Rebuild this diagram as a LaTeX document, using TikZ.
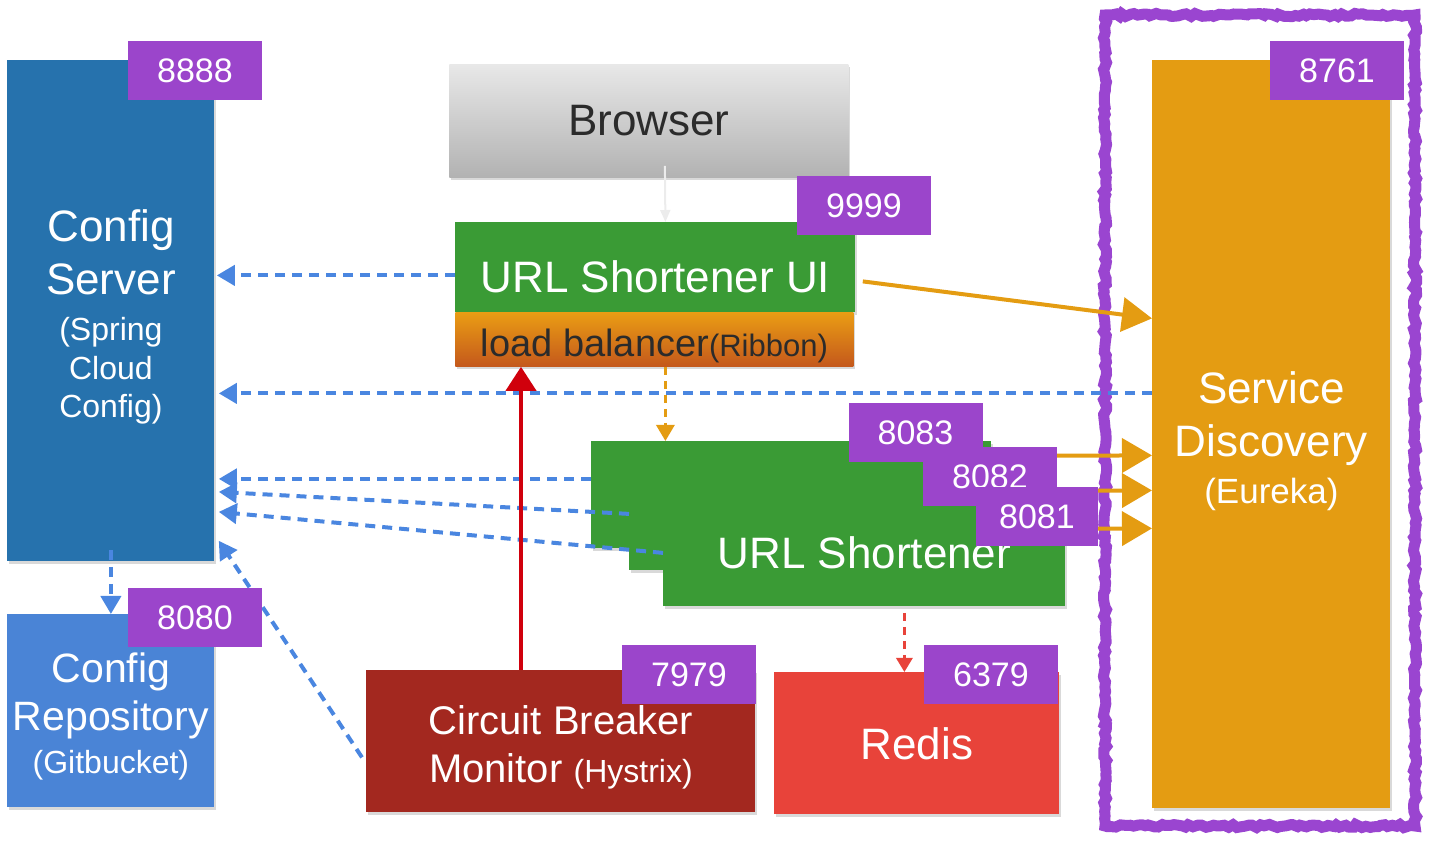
\documentclass[tikz,border=0pt]{standalone}
\usepackage{fontspec}
\setmainfont{Liberation Sans}
\usetikzlibrary{arrows.meta,calc,shadows,decorations.pathmorphing}

\definecolor{cfgblue}{HTML}{2672AD}
\definecolor{repoblue}{HTML}{4A84D6}
\definecolor{portpurple}{HTML}{9B45CB}
\definecolor{svcgreen}{HTML}{3A9B35}
\definecolor{eurekaorange}{HTML}{E49C12}
\definecolor{lbtop}{HTML}{EA9D14}
\definecolor{lbbottom}{HTML}{C4581C}
\definecolor{lbtext}{HTML}{2B2B2B}
\definecolor{browsertop}{HTML}{E8E8E8}
\definecolor{browserbottom}{HTML}{B2B2B2}
\definecolor{hystrixred}{HTML}{A3281F}
\definecolor{redisred}{HTML}{E8433A}
\definecolor{dashblue}{HTML}{4A86E0}
\definecolor{arrowred}{HTML}{D0000C}
\definecolor{framepurple}{HTML}{9A45D0}

\newcommand{\lblbig}{\fontsize{22}{26.5}\selectfont}
\newcommand{\lblsmall}{\fontsize{16}{19}\selectfont}
\newcommand{\topstrut}[1]{\rule{0pt}{#1}}

\begin{document}
\begin{tikzpicture}[x=0.5pt, y=-0.5pt,
	box/.style={anchor=north west, inner sep=0pt, align=center, text=white,
		drop shadow={shadow xshift=0.6pt, shadow yshift=-1.2pt, opacity=0.3}},
	port/.style={fill=portpurple, text=white, inner sep=0pt, minimum width=67pt,
		minimum height=29.5pt, font=\fontsize{17}{20}\selectfont},
	cfgline/.style={dashblue, line width=2pt, dash pattern=on 5pt off 3.5pt,
		-{Triangle[length=9pt,width=10pt]}},
	regline/.style={eurekaorange, line width=2pt, -{Triangle[length=15pt,width=17pt]}}]
	\useasboundingbox (0,0) rectangle (1431,844);
	\draw[framepurple, line width=5.5pt, decorate,
		decoration={random steps, segment length=2pt, amplitude=0.8pt}] (1105,15) rectangle (1415,826);
%
	\node[box, fill=cfgblue, minimum width=103.5pt, minimum height=250.5pt, font=\lblbig] (cfgsrv) at (7,60)
		{\topstrut{22pt}Config\\Server\\[-3.5pt]\lblsmall (Spring\\[-7pt]\lblsmall Cloud\\[-7.5pt]\lblsmall Config)};
	\node[box, fill=repoblue, minimum width=103.5pt, minimum height=96.5pt, font=\fontsize{20.5}{24}\selectfont] (cfgrepo) at (7,614)
		{\topstrut{20pt}Config\\Repository\\[-2.5pt]\lblsmall (Gitbucket)};
	\node[box, top color=browsertop, bottom color=browserbottom, text=lbtext, minimum width=199.5pt, minimum height=56.5pt, font=\lblbig] (browser) at (449,64) {Browser};
	\node[box, fill=svcgreen, minimum width=200pt, minimum height=45pt, font=\lblbig] (ui) at (455,222) {\topstrut{25pt}URL Shortener UI};
	\node[box, top color=lbtop, bottom color=lbbottom, text=lbtext, minimum width=199pt, minimum height=27pt, font=\fontsize{19}{22}\selectfont] (lb) at (455,312)
		{\topstrut{20.5pt}load balancer{\fontsize{15.5}{18}\selectfont(Ribbon)}};
	\node[box, fill=svcgreen, minimum width=200pt, minimum height=53.5pt] (us1) at (591,441) {};
	\node[box, fill=svcgreen, minimum width=200.5pt, minimum height=53.5pt] (us2) at (629,463) {};
	\node[box, fill=svcgreen, minimum width=201pt, minimum height=53.5pt, font=\lblbig] (us3) at (663,499) {URL Shortener};
	\node[box, fill=hystrixred, minimum width=194.5pt, minimum height=71pt, font=\fontsize{20}{24}\selectfont] (cbm) at (366,670)
		{\topstrut{20.5pt}Circuit Breaker\\Monitor {\fontsize{16}{19}\selectfont(Hystrix)}};
	\node[box, fill=redisred, minimum width=142.5pt, minimum height=71pt, font=\lblbig] (redis) at (774,672) {Redis};
	\node[box, fill=eurekaorange, minimum width=119pt, minimum height=374pt, font=\lblbig] (eureka) at (1152,60)
		{\topstrut{23pt}Service\\Discovery\\[-3pt]\fontsize{17.5}{20}\selectfont (Eureka)};
%
	\coordinate (lbout) at ($(lb.south)+(11,0)$);
	\coordinate (usout) at ($(us3.south)+(40,6)$);
	\draw[gray!15, line width=1pt, -{Triangle[length=6pt,width=5pt]}] ($(browser.south)+(16,-12)$) -- ($(ui.north)+(10,0)$);
	\draw[cfgline] ($(ui.west)+(0,8)$) -- ($(ui.west -| cfgsrv.east)+(2,8)$);
	\draw[cfgline] ($(eureka.west)+(0,-41)$) -- ($(eureka.west -| cfgsrv.east)+(4,-41)$);
	\draw[cfgline] ($(us1.west)+(0,-16)$) -- ($(us1.west -| cfgsrv.east)+(4,-16)$);
	\draw[cfgline] ($(us2.west)+(0,-3)$) -- ($(cfgsrv.east)+(4,181)$);
	\draw[cfgline] (us3.west) -- ($(cfgsrv.east)+(4,201)$);
	\draw[cfgline] ($(cbm.west)+(-4,16)$) -- ($(cfgsrv.south east)+(4,-21)$);
	\draw[cfgline] ($(cfgsrv.south)+(0,-12)$) -- (cfgrepo.north);
	\draw[eurekaorange, line width=1.5pt, dash pattern=on 4pt off 3pt, -{Triangle[length=8pt,width=9pt]}] (lbout) -- (lbout |- us1.north);
	\draw[redisred, line width=1.5pt, dash pattern=on 4pt off 3pt, -{Triangle[length=7pt,width=8pt]}] (usout) -- (usout |- redis.north);
	\draw[arrowred, line width=2pt, -{Triangle[length=12pt,width=15pt]}] ($(cbm.north west)+(155,0)$) -- ($(lb.south west)+(66,0)$);
	\draw[regline] ($(ui.east)+(7,14)$) -- ($(eureka.west)+(0,-116)$);
	\draw[regline] ($(us1.east)+(0,-39)$) -- ($(eureka.west)+(0,21)$);
	\draw[regline] ($(us2.east)+(0,-26)$) -- ($(eureka.west)+(0,56)$);
	\draw[regline] ($(us3.east)+(0,-24)$) -- ($(eureka.west)+(0,94)$);
%
	\node[port] (p8888) at (195,70.5) {8888};
	\node[port] (p8080) at (195,618) {8080};
	\node[port] (p9999) at (864,206) {9999};
	\node[port] (p8083) at (915.5,433) {8083};
	\node[port] (p8082) at (990,477) {8082};
	\node[port, minimum width=61pt] (p8081) at (1037,517) {8081};
	\node[port] (p7979) at (689,674.5) {7979};
	\node[port] (p6379) at (991,674.5) {6379};
	\node[port] (p8761) at (1337,71) {8761};
\end{tikzpicture}
\end{document}
